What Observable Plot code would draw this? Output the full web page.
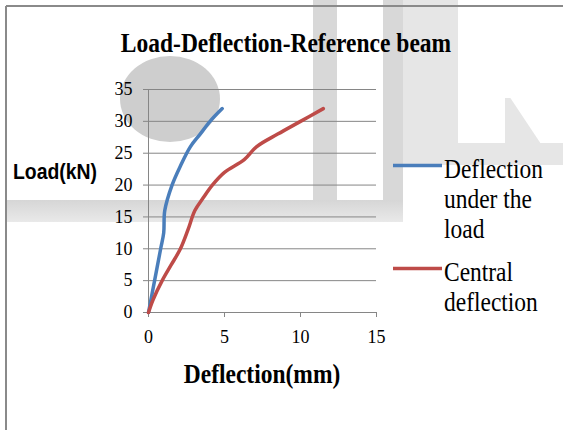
<!DOCTYPE html>
<html><head><meta charset="utf-8">
<script src="https://cdn.jsdelivr.net/npm/d3@7"></script>
<script src="https://cdn.jsdelivr.net/npm/@observablehq/plot@0.6"></script>
<style>
html,body{margin:0;padding:0;background:#fff;}
#wrap{position:relative;width:563px;height:430px;overflow:hidden;background:#fff;}
.wm{position:absolute;}
#chart{position:absolute;left:0;top:0;}
#overlay{position:absolute;left:0;top:0;}
</style></head><body>
<div id="wrap">
  <div class="wm" style="left:120px;top:56px;width:100px;height:86px;border-radius:50%;background:#cecece"></div>
  <div class="wm" style="left:313px;top:0;width:24px;height:222px;background:#d8d8d8"></div>
  <div class="wm" style="left:383px;top:0;width:20px;height:205px;background:#d8d8d8"></div>
  <div class="wm" style="left:403px;top:0;width:55px;height:145px;background:#e6e6e6"></div>
  <div class="wm" style="left:403px;top:143px;width:160px;height:22px;background:#e6e6e6"></div>
  <div class="wm" style="left:505px;top:98px;width:36px;height:46px;background:#e6e6e6;clip-path:polygon(0 0,15% 0,100% 100%,0 100%)"></div>
  <div class="wm" style="left:6px;top:200px;width:397px;height:22px;background:linear-gradient(#d6d6d6,#e9e9e9)"></div>
  <div id="chart"></div>
</div>
<script>
const seriesNames = ["Deflection under the load", "Central deflection"];
const seriesColors = ["#4a7ebb", "#be4b48"];
const legendLines = [["Deflection", "under the", "load"], ["Central", "deflection"]];

const underLoadDefl = [0, 0.4, 0.8, 1.0, 1.07, 1.55, 2.1, 2.75, 3.4, 4.05, 4.85];
const underLoadLoad = [0, 5, 10, 12.5, 16, 20, 23, 26, 28, 30, 32];
const centralDefl = [0, 0.3, 0.9, 1.5, 2.1, 2.6, 3.05, 3.6, 4.2, 5.0, 6.3, 7.1, 8.5, 10, 11.5];
const centralLoad = [0, 2, 5, 7.5, 10, 13, 16, 18, 20, 22, 24, 26, 28, 30, 32];

const xTicks = [0, 5, 10, 15];
const yTicks = [0, 5, 10, 15, 20, 25, 30, 35];

const title = "Load-Deflection-Reference beam";
const xLabel = "Deflection(mm)";
const yLabel = "Load(kN)";

const rows = [
  ...underLoadDefl.map((d, i) => ({series: seriesNames[0], defl: d, load: underLoadLoad[i]})),
  ...centralDefl.map((d, i) => ({series: seriesNames[1], defl: d, load: centralLoad[i]}))
];

const serif = "Liberation Serif, Times New Roman, serif";
const gridColor = "#868686";
const plot = Plot.plot({
  width: 563, height: 430,
  marginLeft: 148, marginRight: 187, marginTop: 89, marginBottom: 118,
  style: {background: "transparent", fontFamily: serif, fontSize: "18px", color: "#000"},
  x: {domain: [0, 15], label: null},
  y: {domain: [0, 35], label: null},
  color: {domain: seriesNames, range: seriesColors},
  marks: [
    Plot.gridY(yTicks, {stroke: gridColor, strokeOpacity: 1, strokeWidth: 1}),
    Plot.axisY({ticks: yTicks, tickSize: 5, tickPadding: 11, stroke: gridColor, fill: "#000", label: null, fontFamily: serif, fontSize: 18}),
    Plot.axisX({ticks: xTicks, tickSize: 5, tickPadding: 13, stroke: gridColor, fill: "#000", label: null, fontFamily: serif, fontSize: 18}),
    Plot.ruleX([0], {stroke: gridColor}),
    Plot.ruleY([0], {stroke: gridColor}),
    Plot.line(rows, {x: "defl", y: "load", z: "series", stroke: "series", strokeWidth: 3.5, curve: "catmull-rom", strokeLinecap: "round"})
  ]
});
d3.select(plot).selectAll("text").attr("font-family", serif).style("font-family", serif);
d3.select(plot).selectAll("g").style("font-family", serif);
document.getElementById("chart").appendChild(plot);

// overlay: frame, titles, legend
const ov = d3.select("#wrap").append("svg").attr("id", "overlay").attr("width", 563).attr("height", 430);
ov.append("line").attr("x1", 6).attr("x2", 563).attr("y1", 6).attr("y2", 6).attr("stroke", "#8a8a8a").attr("stroke-width", 2);
ov.append("line").attr("x1", 6).attr("x2", 6).attr("y1", 6).attr("y2", 430).attr("stroke", "#8a8a8a").attr("stroke-width", 2);

ov.append("text").attr("transform", "translate(286,52) scale(1,1.15)").attr("text-anchor", "middle")
  .style("font-family", serif).style("font-weight", "bold").style("font-size", "23.5px").text(title);
ov.append("text").attr("transform", "translate(262,383) scale(1,1.15)").attr("text-anchor", "middle")
  .style("font-family", serif).style("font-weight", "bold").style("font-size", "23.5px").text(xLabel);
ov.append("text").attr("transform", "translate(13,179) scale(0.97,1.1)")
  .style("font-family", "Liberation Sans, Arial, sans-serif").style("font-weight", "bold").style("font-size", "20px").text(yLabel);

const legendBase = [178, 281];
seriesNames.forEach((s, i) => {
  const g = ov.append("g");
  g.append("line").attr("x1", 393).attr("x2", 442).attr("y1", legendBase[i] - 12.5).attr("y2", legendBase[i] - 12.5)
    .attr("stroke", seriesColors[i]).attr("stroke-width", 3.5);
  legendLines[i].forEach((t, j) => {
    g.append("text").attr("transform", `translate(444,${legendBase[i] + j * 30}) scale(1.02,1.2)`)
      .style("font-family", serif).style("font-size", "23px").text(t);
  });
});
</script>
</body></html>
